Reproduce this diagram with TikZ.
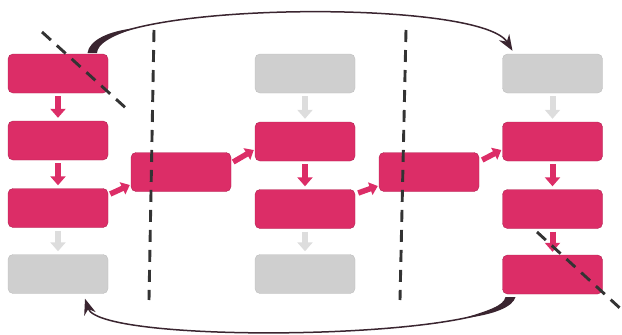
\documentclass[tikz,border=0pt]{standalone}
\usetikzlibrary{calc,arrows.meta}
\definecolor{rosa}{HTML}{DC2D67}
\definecolor{boxgrey}{HTML}{CFCFCF}
\definecolor{arrowgrey}{HTML}{DDDDDD}
\definecolor{dashgrey}{HTML}{333333}
\definecolor{loopdark}{HTML}{3A2530}
\begin{document}
\begin{tikzpicture}[x=1pt,y=-1pt,
    pinkbox/.style={draw=rosa!80!black, line width=0.4pt, fill=rosa, rounded corners=5pt, minimum width=100pt, minimum height=39pt, inner sep=0pt},
    greybox/.style={pinkbox, draw=boxgrey!92!black, fill=boxgrey},
    pinkarrow/.style={draw=rosa, line width=6pt, -{Triangle[width=15pt,length=9pt]}, shorten <=3pt, shorten >=3pt},
    greyarrow/.style={pinkarrow, draw=arrowgrey},
    sidearrow/.style={draw=rosa, line width=5.5pt, -{Triangle[width=13pt,length=8pt]}},
    cutline/.style={draw=dashgrey, line width=2.9pt, dash pattern=on 12pt off 8pt},
    loopline/.style={draw=loopdark, line width=1.5pt, -{Stealth[length=16pt,width=12pt]}}]
  \useasboundingbox (0,0) rectangle (622,335);
  \node[pinkbox] (a1) at (58,73.5) {};
  \node[pinkbox] (a2) at (58,140.5) {};
  \node[pinkbox] (a3) at (58,208) {};
  \node[greybox] (a4) at (58,274) {};
  \node[pinkbox] (b) at (181,172) {};
  \node[greybox] (c1) at (305,73.5) {};
  \node[pinkbox] (c2) at (305,141.5) {};
  \node[pinkbox] (c3) at (305,209) {};
  \node[greybox] (c4) at (305,274) {};
  \node[pinkbox] (d) at (429,172) {};
  \node[greybox] (e1) at (552.5,73.5) {};
  \node[pinkbox] (e2) at (552.5,141.5) {};
  \node[pinkbox] (e3) at (552.5,209) {};
  \node[pinkbox] (e4) at (552.5,274.5) {};
  \draw[pinkarrow] (a1) -- (a2);
  \draw[pinkarrow] (a2) -- (a3);
  \draw[greyarrow] (a3) -- (a4);
  \draw[greyarrow] (c1) -- (c2);
  \draw[pinkarrow] (c2) -- (c3);
  \draw[greyarrow] (c3) -- (c4);
  \draw[greyarrow] (e1) -- (e2);
  \draw[pinkarrow] (e2) -- (e3);
  \draw[pinkarrow] (e3) -- (e4);
  \draw[sidearrow] ([xshift=2pt,yshift=14pt]a3.east) -- ([xshift=-1pt,yshift=-13pt]b.west);
  \draw[sidearrow] ([xshift=2pt,yshift=10pt]b.east) -- ([xshift=-1pt,yshift=-8.5pt]c2.west);
  \draw[sidearrow] ([xshift=3pt,yshift=16pt]c3.east) -- ([xshift=-1pt,yshift=-14pt]d.west);
  \draw[sidearrow] ([xshift=3pt,yshift=12pt]d.east) -- ([xshift=-1pt,yshift=-8.5pt]e2.west);
  \draw[loopline] ([xshift=34pt,yshift=1pt]a1.north) .. controls (100,2) and (480,-2) .. ([xshift=-40pt,yshift=3pt]e1.north);
  \fill[loopdark] (87.5,53) .. controls (89,41) and (107,31) .. (135.7,28.1) .. controls (111,36) and (97.5,44) .. (97,53) -- cycle;
  \draw[loopline] ([xshift=-42pt,yshift=-3pt]e4.south) .. controls (500,340) and (100,345) .. ([xshift=27pt,yshift=-5pt]a4.south);
  \fill[loopdark] (505.5,297) .. controls (503.5,306) and (488,310.5) .. (463.7,318.2) .. controls (493,315) and (513,307) .. (515.5,297) -- cycle;
  \draw[cutline] (154,30) -- (149,300);
  \draw[cutline] (406,30) -- (400,300);
  \draw[cutline] (42,32) -- (128,110);
  \draw[cutline] (537,232) -- (622,310);
\end{tikzpicture}
\end{document}
